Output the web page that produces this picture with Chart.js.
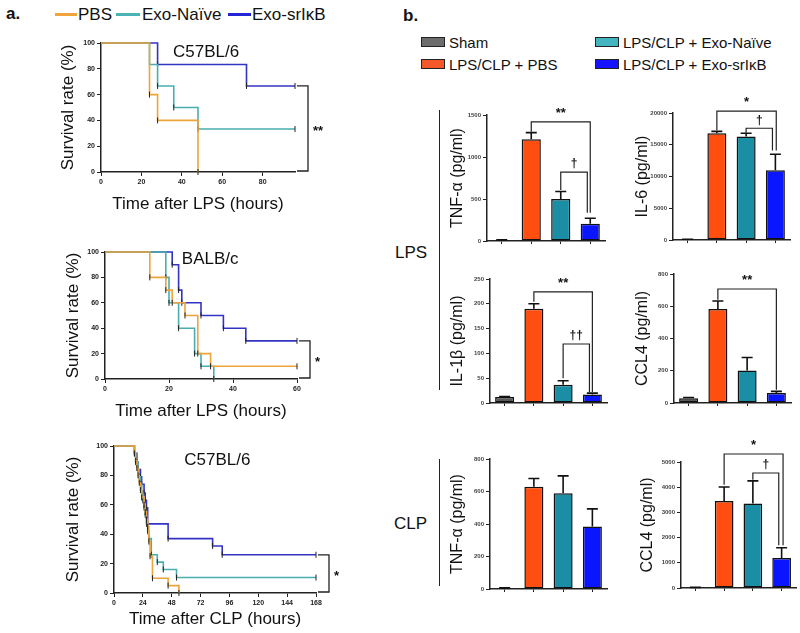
<!DOCTYPE html>
<html>
<head>
<meta charset="utf-8">
<script src="https://cdn.jsdelivr.net/npm/chart.js@4.4.1/dist/chart.umd.min.js"></script>
<style>
  body { margin: 0; background: #fff; width: 800px; height: 633px; position: relative; overflow: hidden;
         font-family: 'Liberation Sans', Arial, sans-serif; color: #111; }
  canvas { position: absolute; }
  .t { position: absolute; white-space: nowrap; line-height: 1; }
  .sw { position: absolute; }
  .box { position: absolute; width: 22px; height: 8px; border: 1px solid #222; }
  .vl { position: absolute; width: 1px; background: #222; }
</style>
</head>
<body>
<div class="t" style="left:6px;top:5px;font-size:17px;font-weight:bold">a.</div>
<div class="sw" style="left:55px;top:13px;width:22px;height:3px;background:#f0a43a"></div>
<div class="t" style="left:78px;top:6px;font-size:17px">PBS</div>
<div class="sw" style="left:116px;top:13px;width:24px;height:3px;background:#4ab3b5"></div>
<div class="t" style="left:142px;top:6px;font-size:17px">Exo-Naïve</div>
<div class="sw" style="left:228px;top:13px;width:23px;height:3px;background:#2424d4"></div>
<div class="t" style="left:252px;top:6px;font-size:17px">Exo-srIκB</div>

<div class="t" style="left:403px;top:7px;font-size:17px;font-weight:bold">b.</div>
<div class="box" style="left:421px;top:37px;background:#6c6c6c"></div>
<div class="t" style="left:449px;top:35px;font-size:15px">Sham</div>
<div class="box" style="left:421px;top:59px;background:#f4582a"></div>
<div class="t" style="left:449px;top:57px;font-size:15px">LPS/CLP + PBS</div>
<div class="box" style="left:595px;top:37px;background:#42b5c0"></div>
<div class="t" style="left:623px;top:35px;font-size:15px">LPS/CLP + Exo-Naïve</div>
<div class="box" style="left:595px;top:59px;background:#1414ff"></div>
<div class="t" style="left:623px;top:57px;font-size:15px">LPS/CLP + Exo-srIκB</div>

<div class="t" style="left:395px;top:244px;font-size:17px">LPS</div>
<div class="vl" style="left:439px;top:110px;height:280px"></div>
<div class="t" style="left:394px;top:515px;font-size:17px">CLP</div>
<div class="vl" style="left:439px;top:459px;height:127px"></div>

<script>
// ---- panel a: survival, time (h) and % alive at each step ----
const b6LpsPbsT = [0, 24, 28, 48];
const b6LpsPbsS = [100, 60, 40, 0];
const b6LpsNaiveT = [0, 24, 28, 36, 48, 96];
const b6LpsNaiveS = [100, 83.3, 66.7, 50, 33.3, 33.3];
const b6LpsSrT = [0, 28, 72, 96];
const b6LpsSrS = [100, 83.3, 66.7, 66.7];

const balbPbsT = [0, 14, 19, 21, 25, 29, 33, 60];
const balbPbsS = [100, 80, 70, 60, 50, 20, 10, 10];
const balbNaiveT = [0, 19, 20, 23, 28, 30, 34];
const balbNaiveS = [100, 80, 60, 40, 20, 10, 0];
const balbSrT = [0, 21, 23, 24, 30, 37, 44, 60];
const balbSrS = [100, 90, 70, 60, 50, 40, 30, 30];

const clpPbsT = [0, 17, 18, 19, 20, 21, 22, 23, 25, 26, 27, 28, 29, 30, 32, 45, 54];
const clpPbsS = [100, 95, 90, 85, 80, 75, 70, 65, 60, 55, 50, 45, 35, 25, 10, 5, 0];
const clpNaiveT = [0, 17, 18, 20, 21, 22, 23, 24, 25, 26, 27, 28, 29, 31, 36, 41, 52, 168];
const clpNaiveS = [100, 95, 89, 84, 79, 74, 68, 63, 58, 53, 47, 42, 37, 26, 21, 16, 10.5, 10.5];
const clpSrT = [0, 17, 19, 20, 22, 23, 25, 26, 27, 28, 45, 82, 90, 168];
const clpSrS = [100, 95, 89, 84, 79, 74, 68, 63, 58, 47, 37, 32, 26, 26];

// ---- panel b: cytokines (mean, SEM) ----
const groups = ['Sham', 'LPS/CLP + PBS', 'LPS/CLP + Exo-Naïve', 'LPS/CLP + Exo-srIκB'];
const tnfLps = [10, 1210, 500, 205];
const tnfLpsErr = [3, 80, 90, 65];
const il6Lps = [80, 16800, 16300, 11000];
const il6LpsErr = [30, 300, 500, 2500];
const il1bLps = [12, 190, 37, 17];
const il1bLpsErr = [1, 10, 8, 3];
const ccl4Lps = [30, 583, 202, 62];
const ccl4LpsErr = [4, 50, 80, 10];
const tnfClp = [5, 630, 589, 385];
const tnfClpErr = [2, 50, 107, 108];
const ccl4Clp = [20, 3450, 3350, 1190];
const ccl4ClpErr = [5, 560, 900, 410];

const FONT = "'Liberation Sans', Arial, sans-serif";
Chart.defaults.font.family = FONT;
Chart.defaults.color = '#222';

const kmColors = { pbs: '#eda43a', naive: '#4aaeb0', sr: '#3434c4' };
const barColors = ['#5a5a5a', '#ff4e10', '#1a8ea5', '#0a16ff'];

function place(box) {
  const cv = document.createElement('canvas');
  cv.width = box.w; cv.height = box.h;
  cv.style.left = box.x + 'px'; cv.style.top = box.y + 'px';
  document.body.appendChild(cv);
  return cv;
}

const plainNum = v => String(v);   // no thousands separator, like Prism
const axisGrid = { drawOnChartArea: false, drawTicks: true, tickLength: 4, color: '#222', lineWidth: 1 };
const axisBorder = { display: true, color: '#222', width: 1.5 };

// strain name inside the plot + logrank bracket at right end
const kmExtras = {
  id: 'kmExtras',
  afterDraw(chart, args, o) {
    const { ctx, chartArea: ca, scales: { x, y } } = chart;
    ctx.save();
    ctx.fillStyle = '#111';
    ctx.font = '17px ' + FONT;
    ctx.textAlign = o.align || 'center';
    ctx.textBaseline = 'middle';
    ctx.fillText(o.text, x.getPixelForValue(o.x), y.getPixelForValue(o.y));
    const vx = ca.right + 13;
    const yt = y.getPixelForValue(o.top), yb = y.getPixelForValue(0) - 1;
    ctx.strokeStyle = '#222'; ctx.lineWidth = 1.3;
    ctx.beginPath();
    ctx.moveTo(ca.right + 2, yt); ctx.lineTo(vx, yt); ctx.lineTo(vx, yb); ctx.lineTo(ca.right + 2, yb);
    ctx.stroke();
    ctx.font = 'bold 13px ' + FONT;
    ctx.textAlign = 'left';
    ctx.fillText(o.sig, vx + 5, (yt + yb) / 2 + 3);
    ctx.restore();
  }
};

function survivalChart(box, xMax, xStep, xTitle, series, extras) {
  return new Chart(place(box), {
    type: 'line',
    data: {
      datasets: series.map(s => ({
        label: s.name,
        data: s.t.map((t, i) => ({ x: t, y: s.s[i] })),
        borderColor: s.color,
        borderWidth: 1.6,
        stepped: 'before',
        fill: false,
        clip: false,
        pointStyle: 'line',
        pointRotation: 90,
        pointRadius: c => (c.dataIndex === 0 ? 0 : 3),
        pointBorderColor: '#222',
        pointBorderWidth: 1
      }))
    },
    options: {
      animation: false, responsive: false, devicePixelRatio: 1,
      layout: { padding: { top: box.padTop, right: box.padRight, left: 0, bottom: 0 } },
      plugins: { legend: { display: false }, tooltip: { enabled: false }, kmExtras: extras },
      scales: {
        x: {
          type: 'linear', min: 0, max: xMax,
          ticks: { stepSize: xStep, includeBounds: false, maxRotation: 0, padding: 2, font: { size: 7, weight: 'bold' }, callback: plainNum },
          grid: axisGrid, border: axisBorder,
          title: { display: true, text: xTitle, font: { size: 17 }, color: '#111', padding: 0 },
          afterFit: s => { s.height = box.xH; }
        },
        y: {
          min: 0, max: 100,
          ticks: { stepSize: 20, padding: 2, font: { size: 7, weight: 'bold' }, callback: plainNum },
          grid: axisGrid, border: axisBorder,
          title: { display: true, text: 'Survival rate (%)', font: { size: 17 }, color: '#111', padding: 0 },
          afterFit: s => { s.width = box.yW; }
        }
      }
    },
    plugins: [kmExtras]
  });
}

// SEM whiskers (upper only) on top of each bar
const errorBars = {
  id: 'errorBars',
  afterDatasetsDraw(chart) {
    const { ctx, scales: { y } } = chart;
    ctx.save();
    ctx.strokeStyle = '#111'; ctx.lineWidth = 1.6;
    chart.data.datasets.forEach((ds, di) => {
      if (!ds.errors) return;
      chart.getDatasetMeta(di).data.forEach((bar, i) => {
        const top = y.getPixelForValue(ds.data[i] + ds.errors[i]);
        ctx.beginPath();
        ctx.moveTo(bar.x, bar.y); ctx.lineTo(bar.x, top);
        ctx.moveTo(bar.x - 5.5, top); ctx.lineTo(bar.x + 5.5, top);
        ctx.stroke();
      });
    });
    ctx.restore();
  }
};

// significance brackets, given in category index / data units
const sigBrackets = {
  id: 'sigBrackets',
  afterDatasetsDraw(chart, args, o) {
    const { ctx, scales: { x, y } } = chart;
    ctx.save();
    ctx.strokeStyle = '#222'; ctx.lineWidth = 1.2;
    ctx.fillStyle = '#111';
    ctx.textAlign = 'center'; ctx.textBaseline = 'bottom';
    (o.items || []).forEach(b => {
      const xa = x.getPixelForValue(b.from), xb = x.getPixelForValue(b.to);
      const yt = y.getPixelForValue(b.at);
      ctx.beginPath();
      ctx.moveTo(xa, y.getPixelForValue(b.legA));
      ctx.lineTo(xa, yt); ctx.lineTo(xb, yt);
      ctx.lineTo(xb, y.getPixelForValue(b.legB));
      ctx.stroke();
      ctx.font = (b.text.includes('*') ? 'bold 13px ' : 'bold 12px ') + FONT;
      ctx.fillText(b.text, (xa + xb) / 2, yt - 2);
    });
    ctx.restore();
  }
};

function barChart(box, yTitle, values, errors, yMax, yStep, brackets) {
  return new Chart(place(box), {
    type: 'bar',
    data: {
      labels: groups,
      datasets: [{
        data: values, errors: errors,
        backgroundColor: barColors,
        borderColor: '#111', borderWidth: 1.5, borderSkipped: false,
        categoryPercentage: 1, barPercentage: 0.65
      }]
    },
    options: {
      animation: false, responsive: false, devicePixelRatio: 1,
      layout: { padding: { top: box.padTop, right: box.padRight, left: 0, bottom: 0 } },
      plugins: { legend: { display: false }, tooltip: { enabled: false }, sigBrackets: { items: brackets } },
      scales: {
        x: {
          ticks: { display: false },
          grid: { offset: false, drawOnChartArea: false, drawTicks: true, tickLength: 3, color: '#222' },
          border: axisBorder,
          afterFit: s => { s.height = box.xH; }
        },
        y: {
          min: 0, max: yMax,
          ticks: { stepSize: yStep, padding: 2, font: { size: 6, weight: 'bold' }, color: '#444', callback: plainNum },
          grid: axisGrid, border: axisBorder,
          title: { display: true, text: yTitle, font: { size: 16 }, color: '#111', padding: 0 },
          afterFit: s => { s.width = box.yW; }
        }
      }
    },
    plugins: [errorBars, sigBrackets]
  });
}

// ---- panel a ----
survivalChart({ x: 58, y: 33, w: 282, h: 182, yW: 43, xH: 43, padTop: 10, padRight: 45 }, 96, 20,
  'Time after LPS (hours)', [
    { name: 'PBS', t: b6LpsPbsT, s: b6LpsPbsS, color: kmColors.pbs },
    { name: 'Exo-Naïve', t: b6LpsNaiveT, s: b6LpsNaiveS, color: kmColors.naive },
    { name: 'Exo-srIκB', t: b6LpsSrT, s: b6LpsSrS, color: kmColors.sr }
  ], { text: 'C57BL/6', x: 52, y: 93, top: 66.7, sig: '**' });

survivalChart({ x: 63, y: 242, w: 277, h: 180, yW: 42, xH: 43, padTop: 10, padRight: 43 }, 60, 20,
  'Time after LPS (hours)', [
    { name: 'PBS', t: balbPbsT, s: balbPbsS, color: kmColors.pbs },
    { name: 'Exo-Naïve', t: balbNaiveT, s: balbNaiveS, color: kmColors.naive },
    { name: 'Exo-srIκB', t: balbSrT, s: balbSrS, color: kmColors.sr }
  ], { text: 'BALB/c', align: 'left', x: 24, y: 94, top: 30, sig: '*' });

survivalChart({ x: 63, y: 436, w: 297, h: 194, yW: 51, xH: 37, padTop: 10, padRight: 44 }, 168, 24,
  'Time after CLP (hours)', [
    { name: 'PBS', t: clpPbsT, s: clpPbsS, color: kmColors.pbs },
    { name: 'Exo-Naïve', t: clpNaiveT, s: clpNaiveS, color: kmColors.naive },
    { name: 'Exo-srIκB', t: clpSrT, s: clpSrS, color: kmColors.sr }
  ], { text: 'C57BL/6', x: 86, y: 90, top: 26, sig: '*' });

// ---- panel b ----
barChart({ x: 448, y: 101, w: 164, h: 152, yW: 39, xH: 12, padTop: 14, padRight: 7 },
  'TNF-α (pg/ml)', tnfLps, tnfLpsErr, 1500, 500, [
    { from: 1, to: 3, at: 1417, legA: 1300, legB: 335, text: '**' },
    { from: 2, to: 2.9, at: 820, legA: 607, legB: 335, text: '†' }
  ]);

barChart({ x: 633, y: 95, w: 165, h: 157, yW: 40, xH: 12, padTop: 18, padRight: 8 },
  'IL-6 (pg/ml)', il6Lps, il6LpsErr, 20000, 5000, [
    { from: 1, to: 3.03, at: 20300, legA: 17300, legB: 14100, text: '*' },
    { from: 2, to: 2.9, at: 17600, legA: 16900, legB: 14100, text: '†' }
  ]);

barChart({ x: 448, y: 265, w: 166, h: 150, yW: 42, xH: 12, padTop: 14, padRight: 7 },
  'IL-1β (pg/ml)', il1bLps, il1bLpsErr, 250, 50, [
    { from: 1, to: 3, at: 224, legA: 204, legB: 22, text: '**' },
    { from: 2, to: 2.9, at: 119, legA: 50, legB: 22, text: '††' }
  ]);

barChart({ x: 633, y: 262, w: 165, h: 153, yW: 41, xH: 12, padTop: 12, padRight: 7 },
  'CCL4 (pg/ml)', ccl4Lps, ccl4LpsErr, 800, 200, [
    { from: 1, to: 3, at: 707, legA: 640, legB: 82, text: '**' }
  ]);

barChart({ x: 448, y: 447, w: 166, h: 154, yW: 42, xH: 12, padTop: 12, padRight: 7 },
  'TNF-α (pg/ml)', tnfClp, tnfClpErr, 800, 200, []);

barChart({ x: 638, y: 437, w: 162, h: 163, yW: 43, xH: 12, padTop: 25, padRight: 4 },
  'CCL4 (pg/ml)', ccl4Clp, ccl4ClpErr, 5000, 1000, [
    { from: 1, to: 3.05, at: 5317, legA: 4100, legB: 1700, text: '*' },
    { from: 2, to: 2.9, at: 4563, legA: 4300, legB: 1700, text: '†' }
  ]);
</script>
</body>
</html>
